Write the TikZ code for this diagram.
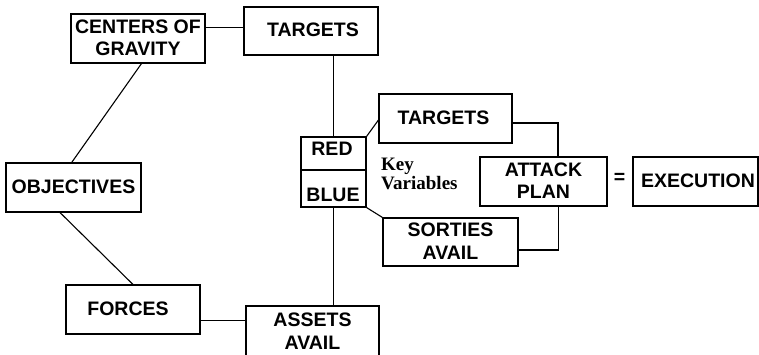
\documentclass[tikz,border=0pt]{standalone}
\usepackage{fontspec}
\setmainfont{Liberation Sans}
\newfontfamily\serifbold{Liberation Serif}
\begin{document}
\begin{tikzpicture}[x=1pt,y=-1pt,
  box/.style={draw,line width=1.1pt,inner sep=0pt,align=center,
    font=\bfseries\fontsize{19.5}{22.5}\selectfont,text depth=2pt},
  lbl/.style={inner sep=0pt,font=\bfseries\fontsize{19.5}{22.5}\selectfont},
  link/.style={line width=1.1pt}]
\useasboundingbox (0,0) rectangle (759,354);
\node[box,minimum width=134pt,minimum height=49pt] (cog) at (138,38.5) {CENTERS OF\\GRAVITY};
\node[box,minimum width=134pt,minimum height=48pt] (tgt1) at (311,31) {\hspace*{4pt}TARGETS};
\node[box,minimum width=135pt,minimum height=49pt] (obj) at (73.5,187.5) {OBJECTIVES};
\node[box,minimum width=134pt,minimum height=49pt] (forces) at (133,309.5) {FORCES\hspace*{10pt}};
\node[box,minimum width=133pt,minimum height=50pt,text depth=0pt] (assets) at (312.5,331) {ASSETS\\AVAIL};
\node[box,minimum width=65pt,minimum height=33pt] (red) at (333.5,153.5) {};
\node[box,minimum width=65pt,minimum height=37pt] (blue) at (333.5,188.5) {};
\node[lbl] (redt) at (332,149) {RED};
\node[lbl] (bluet) at (333,195) {BLUE};
\node[box,minimum width=133pt,minimum height=49pt] (tgt2) at (445.5,118.5) {TARGETS\hspace*{4pt}};
\node[box,minimum width=127pt,minimum height=49pt] (attack) at (543.5,181.5) {ATTACK\\PLAN};
\node[box,minimum width=125pt,minimum height=49pt] (exec) at (695.5,181.5) {\hspace*{5pt}EXECUTION};
\node[box,minimum width=135pt,minimum height=48pt] (sorties) at (450.5,242) {SORTIES\\AVAIL};
\node[lbl] (eq) at (619.5,178) {=};
\node[inner sep=0pt,anchor=west,align=left,font=\serifbold\bfseries\fontsize{19}{18.5}\selectfont] (key) at (381,174) {Key\\Variables};
% connectors
\draw[link] ([yshift=-14pt]cog.north east) -- ([yshift=-21pt]tgt1.north west);
\draw[link] (red.north) -- (red.north |- tgt1.south);
\draw[link] ([xshift=3.5pt]cog.south) -- ([xshift=-1.8pt]obj.north);
\draw[link] ([xshift=-13.5pt]obj.south) -- (forces.north);
\draw[link] ([yshift=-11pt]forces.east) -- ([yshift=-11pt]forces.east -| assets.west);
\draw[link] (blue.south) -- (assets.north -| blue.south);
\draw[link] (red.north east) -- ([yshift=-1.5pt]tgt2.west);
\draw[link] (blue.south east) -- (sorties.north west);
\draw[link] ([yshift=-4.5pt]tgt2.east) -| ([xshift=14.5pt]attack.north);
\draw[link] ([yshift=-8pt]sorties.east) -| ([xshift=15pt]attack.south);
\end{tikzpicture}
\end{document}
